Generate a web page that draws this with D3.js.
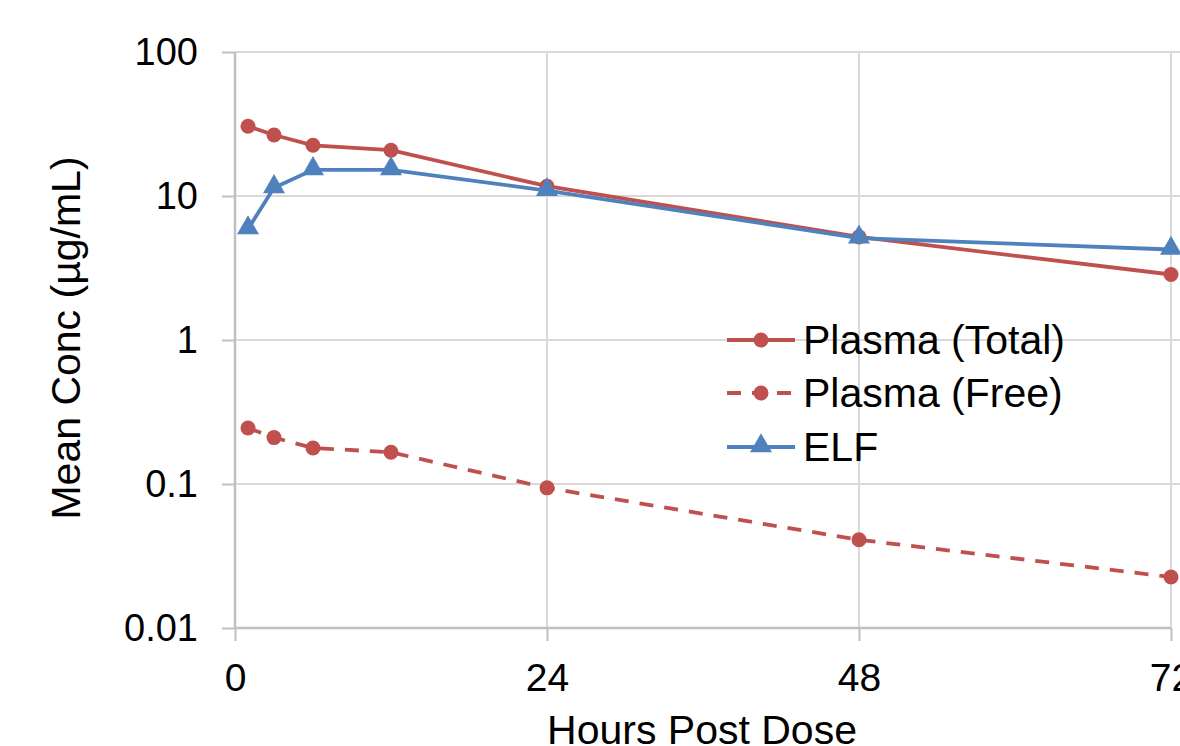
<!DOCTYPE html>
<html>
<head>
<meta charset="utf-8">
<script src="https://cdn.jsdelivr.net/npm/d3@7"></script>
<style>
  html, body { margin: 0; padding: 0; background: #ffffff; }
  svg { display: block; font-family: "Liberation Sans", Arial, sans-serif; }
</style>
</head>
<body>
<svg id="chart" width="1180" height="746"></svg>
<script>
// ---- data ----
const hours = [1, 3, 6, 12, 24, 48, 72];
const plasmaTotal = [30.5, 26.5, 22.5, 20.8, 11.7, 5.2, 2.85];
const plasmaFree = [0.245, 0.21, 0.178, 0.166, 0.094, 0.041, 0.0226];
const elf = [5.9, 11.4, 15.2, 15.2, 10.9, 5.1, 4.25];
const seriesNames = ["Plasma (Total)", "Plasma (Free)", "ELF"];
const xTicks = [0, 24, 48, 72];
const yTicks = [0.01, 0.1, 1, 10, 100];
const yTickLabels = ["0.01", "0.1", "1", "10", "100"];

(function () {
const RED = "#C0504D", BLUE = "#4F81BD";

const svg = d3.select("#chart");
const pLeft = 235, pRight = 1171, pTop = 52, pBottom = 628;

const x = d3.scaleLinear().domain([0, 72]).range([pLeft, pRight]);
const y = d3.scaleLog().domain([0.01, 100]).range([pBottom, pTop]);

// gridlines
const grid = svg.append("g");
grid.selectAll("line.h").data(yTicks.slice(1)).join("line")
  .attr("x1", pLeft).attr("x2", 1180)
  .attr("y1", d => y(d)).attr("y2", d => y(d))
  .attr("stroke", "#D9D9D9").attr("stroke-width", 2);
grid.selectAll("line.v").data(xTicks.slice(1)).join("line")
  .attr("x1", d => x(d)).attr("x2", d => x(d))
  .attr("y1", pTop).attr("y2", pBottom)
  .attr("stroke", "#D9D9D9").attr("stroke-width", 2);

// axes
const yAxis = d3.axisLeft(y).tickValues(yTicks)
  .tickFormat((d, i) => yTickLabels[i]).tickSize(13).tickPadding(24);
const gy = svg.append("g").attr("transform", `translate(${pLeft},0)`).call(yAxis);
gy.select(".domain").attr("stroke", "#BFBFBF").attr("stroke-width", 2.5)
  .attr("d", `M0,${pTop}V${pBottom}`);
gy.selectAll(".tick line").attr("stroke", "#BFBFBF").attr("stroke-width", 2);
gy.selectAll(".tick text").attr("font-size", 38).attr("fill", "#000")
  .attr("font-family", "Liberation Sans, Arial, sans-serif");

const xAxis = d3.axisBottom(x).tickValues(xTicks).tickFormat(d3.format("d"))
  .tickSize(13).tickPadding(22);
const gx = svg.append("g").attr("transform", `translate(0,${pBottom})`).call(xAxis);
gx.select(".domain").attr("stroke", "#BFBFBF").attr("stroke-width", 2.5)
  .attr("d", `M${pLeft},0H${pRight}`);
gx.selectAll(".tick line").attr("stroke", "#BFBFBF").attr("stroke-width", 2);
gx.selectAll(".tick text").attr("font-size", 39).attr("fill", "#000")
  .attr("font-family", "Liberation Sans, Arial, sans-serif");

// axis titles
svg.append("text").attr("x", 702).attr("y", 744)
  .attr("text-anchor", "middle").attr("font-size", 41).attr("fill", "#000")
  .text("Hours Post Dose");
svg.append("text")
  .attr("transform", `translate(80,${(pTop + pBottom) / 2 - 2}) rotate(-90)`)
  .attr("text-anchor", "middle").attr("font-size", 41).attr("fill", "#000")
  .text("Mean Conc (µg/mL)");

// series
const series = [
  { name: seriesNames[0], values: plasmaTotal, color: RED, dash: null, marker: "circle" },
  { name: seriesNames[1], values: plasmaFree, color: RED, dash: "14,11", marker: "circle" },
  { name: seriesNames[2], values: elf, color: BLUE, dash: null, marker: "triangle" }
];
const line = d3.line().x(d => x(d[0])).y(d => y(d[1]));
const triangle = d3.symbol().type(d3.symbolTriangle).size(210);

series.forEach(s => {
  const pts = hours.map((h, i) => [h, s.values[i]]);
  svg.append("path").datum(pts).attr("d", line)
    .attr("fill", "none").attr("stroke", s.color).attr("stroke-width", 3.8)
    .attr("stroke-dasharray", s.dash);
  const g = svg.append("g");
  if (s.marker === "circle") {
    g.selectAll("circle").data(pts).join("circle")
      .attr("cx", d => x(d[0])).attr("cy", d => y(d[1])).attr("r", 7.5)
      .attr("fill", s.color);
  } else {
    g.selectAll("path").data(pts).join("path")
      .attr("d", triangle)
      .attr("transform", d => `translate(${x(d[0])},${y(d[1]) - 1})`)
      .attr("fill", s.color);
  }
});

// legend
const legend = svg.append("g");
const legendY = [340, 393, 447];
series.forEach((s, i) => {
  const ly = legendY[i];
  legend.append("line").attr("x1", 727).attr("x2", 795)
    .attr("y1", ly).attr("y2", ly)
    .attr("stroke", s.color).attr("stroke-width", 3.8)
    .attr("stroke-dasharray", s.dash ? "14,11" : null);
  if (s.marker === "circle") {
    legend.append("circle").attr("cx", 761).attr("cy", ly).attr("r", 7.5).attr("fill", s.color);
  } else {
    legend.append("path").attr("d", triangle)
      .attr("transform", `translate(761,${ly - 1})`).attr("fill", s.color);
  }
  legend.append("text").attr("x", 803).attr("y", ly + 14)
    .attr("font-size", 41).attr("fill", "#000").text(s.name);
});
})();
</script>
</body>
</html>
